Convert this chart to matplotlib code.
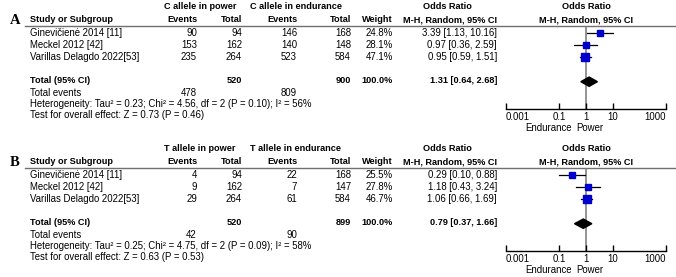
import matplotlib
matplotlib.use('Agg')
import matplotlib.pyplot as plt

plt.rcParams['font.family'] = ['Liberation Sans', 'DejaVu Sans']

# ---------------
# Data
# ---------------
studies = ['Ginevičienė 2014 [11]', 'Meckel 2012 [42]', 'Varillas Delagdo 2022[53]']

# Panel A, C allele
a_ev_pow = [90, 153, 235]
a_tot_pow = [94, 162, 264]
a_ev_end = [146, 140, 523]
a_tot_end = [168, 148, 584]
a_weight = [24.8, 28.1, 47.1]
a_or = [3.39, 0.97, 0.95]
a_lo = [1.13, 0.36, 0.59]
a_hi = [10.16, 2.59, 1.51]
a_totals = [520, 900]
a_pooled = [1.31, 0.64, 2.68]
a_events = [478, 809]
a_het = 'Heterogeneity: Tau² = 0.23; Chi² = 4.56, df = 2 (P = 0.10); I² = 56%'
a_test = 'Test for overall effect: Z = 0.73 (P = 0.46)'

# Panel B, T allele
b_ev_pow = [4, 9, 29]
b_tot_pow = [94, 162, 264]
b_ev_end = [22, 7, 61]
b_tot_end = [168, 147, 584]
b_weight = [25.5, 27.8, 46.7]
b_or = [0.29, 1.18, 1.06]
b_lo = [0.10, 0.43, 0.66]
b_hi = [0.88, 3.24, 1.69]
b_totals = [520, 899]
b_pooled = [0.79, 0.37, 1.66]
b_events = [42, 90]
b_het = 'Heterogeneity: Tau² = 0.25; Chi² = 4.75, df = 2 (P = 0.09); I² = 58%'
b_test = 'Test for overall effect: Z = 0.63 (P = 0.53)'

ticks = [0.001, 0.1, 1, 10, 1000]
tick_labels = ['0.001', '0.1', '1', '10', '1000']

# ---------------
# Layout (pixels)
# ---------------
W, H = 676, 277
fs = 6.9      # regular text
fsb = 6.6     # bold text
row0, drow = 32.5, 12.3
line_y, axis_y = 25.5, 109
blue = '#0000cc'

fig = plt.figure(figsize=(W / 100, H / 100), dpi=100)
ax = fig.add_axes([0, 0, 1, 1])
ax.set_xlim(0, W)
ax.set_ylim(H, 0)
ax.axis('off')


def panel(dy, letter, allele, ev_p, tot_p, ev_e, tot_e, wt, orv, lo, hi,
          totals, pooled, events, het, test):
    def t(x, y, s, ha='left', bold=False, **kw):
        ax.text(x, y + dy, s, ha=ha, va='center',
                fontsize=fsb if bold else fs,
                fontweight='bold' if bold else 'normal', **kw)

    ax.text(15, 20 + dy, letter, ha='center', va='center', fontsize=10.5,
            fontweight='bold', family='Liberation Serif')

    # headers
    t(200, 6.5, f'{allele} allele in power', ha='center', bold=True)
    t(296, 6.5, f'{allele} allele in endurance', ha='center', bold=True)
    t(447, 6.5, 'Odds Ratio', ha='center', bold=True)
    t(586, 6.5, 'Odds Ratio', ha='center', bold=True)
    t(30, 20, 'Study or Subgroup', bold=True)
    t(197, 20, 'Events', ha='right', bold=True)
    t(242, 20, 'Total', ha='right', bold=True)
    t(297, 20, 'Events', ha='right', bold=True)
    t(351, 20, 'Total', ha='right', bold=True)
    t(393, 20, 'Weight', ha='right', bold=True)
    t(497, 20, 'M-H, Random, 95% CI', ha='right', bold=True)
    t(586, 20, 'M-H, Random, 95% CI', ha='center', bold=True)
    ax.plot([25, W], [line_y + dy, line_y + dy], color='#707070', lw=1)

    for i, name in enumerate(studies):
        y = row0 + drow * i
        t(30, y, name)
        t(197, y, str(ev_p[i]), ha='right')
        t(242, y, str(tot_p[i]), ha='right')
        t(297, y, str(ev_e[i]), ha='right')
        t(351, y, str(tot_e[i]), ha='right')
        t(393, y, f'{wt[i]:.1f}%', ha='right')
        t(497, y, f'{orv[i]:.2f} [{lo[i]:.2f}, {hi[i]:.2f}]', ha='right')

    yt = row0 + drow * 4 - 1
    t(30, yt, 'Total (95% CI)', bold=True)
    t(242, yt, str(totals[0]), ha='right', bold=True)
    t(351, yt, str(totals[1]), ha='right', bold=True)
    t(393, yt, '100.0%', ha='right', bold=True)
    t(497, yt, f'{pooled[0]:.2f} [{pooled[1]:.2f}, {pooled[2]:.2f}]',
      ha='right', bold=True)
    t(30, 93, 'Total events')
    t(197, 93, str(events[0]), ha='right')
    t(297, 93, str(events[1]), ha='right')
    t(30, 104, het)
    t(30, 115, test)
    t(572, 128, 'Endurance', ha='right')
    t(576, 128, 'Power')

    # forest plot
    top, bot = line_y + dy, axis_y + dy
    fa = fig.add_axes([506 / W, 1 - bot / H, 160 / W, (bot - top) / H])
    fa.set_xscale('log')
    fa.set_xlim(1e-3, 1e3)
    fa.set_ylim((axis_y - row0) / drow, (line_y - row0) / drow)
    fa.patch.set_visible(False)
    for s in ['top', 'left', 'right']:
        fa.spines[s].set_visible(False)
    fa.spines['bottom'].set_linewidth(1)
    fa.set_xticks(ticks)
    labels = fa.set_xticklabels(tick_labels)
    labels[0].set_ha('left')
    labels[-1].set_ha('right')
    fa.minorticks_off()
    fa.set_yticks([])
    fa.tick_params(axis='x', direction='in', length=4, width=1,
                   labelsize=fs, pad=2.5)
    fa.axvline(1, color='#808080', lw=1.2, zorder=1)
    for i in range(len(orv)):
        fa.plot([lo[i], hi[i]], [i, i], color='black', lw=0.9, zorder=2)
        fa.plot(orv[i], i, marker='s', color=blue, mec=blue,
                ms=0.75 * wt[i] ** 0.5, zorder=3)
    fa.fill([pooled[1], pooled[0], pooled[2], pooled[0]],
            [4, 3.62, 4, 4.38], color='black', zorder=3)


panel(0, 'A', 'C', a_ev_pow, a_tot_pow, a_ev_end, a_tot_end, a_weight,
      a_or, a_lo, a_hi, a_totals, a_pooled, a_events, a_het, a_test)
panel(142, 'B', 'T', b_ev_pow, b_tot_pow, b_ev_end, b_tot_end, b_weight,
      b_or, b_lo, b_hi, b_totals, b_pooled, b_events, b_het, b_test)

fig.savefig('out.png', dpi=100)
